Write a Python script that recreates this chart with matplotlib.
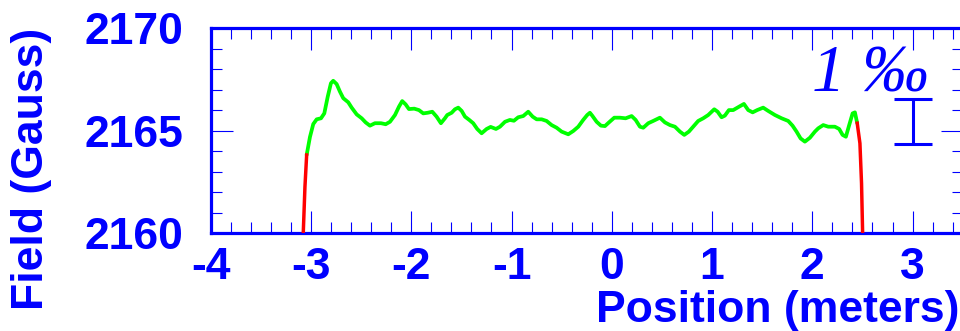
import numpy as np
import matplotlib
matplotlib.use('Agg')
import matplotlib.pyplot as plt
from matplotlib.ticker import MultipleLocator

# field map along the magnet axis
pos_green = [-3.043, -3.010, -2.977, -2.943, -2.900, -2.867, -2.833, -2.801, -2.778, -2.744,
             -2.711, -2.678, -2.628, -2.594, -2.544, -2.494, -2.455, -2.412, -2.362, -2.302,
             -2.255, -2.212, -2.162, -2.122, -2.090, -2.056, -2.023, -1.970, -1.923, -1.880,
             -1.836, -1.790, -1.747, -1.704, -1.664, -1.641, -1.597, -1.564, -1.531, -1.497,
             -1.464, -1.421, -1.382, -1.342, -1.298, -1.248, -1.208, -1.155, -1.115, -1.065,
             -1.016, -0.976, -0.933, -0.883, -0.833, -0.789, -0.749, -0.699, -0.650, -0.600,
             -0.550, -0.500, -0.434, -0.384, -0.334, -0.285, -0.245, -0.218, -0.195, -0.151,
             -0.108, -0.068, -0.028, 0.025, 0.081, 0.138, 0.198, 0.238, 0.281, 0.314,
             0.364, 0.413, 0.480, 0.530, 0.580, 0.630, 0.680, 0.723, 0.769, 0.812,
             0.862, 0.912, 0.962, 1.022, 1.056, 1.095, 1.128, 1.168, 1.211, 1.271,
             1.318, 1.361, 1.405, 1.450, 1.510, 1.560, 1.627, 1.694, 1.760, 1.803,
             1.843, 1.883, 1.926, 1.976, 2.026, 2.059, 2.109, 2.159, 2.225, 2.268,
             2.302, 2.335, 2.368, 2.402, 2.425, 2.448]
field_green = [2163.82, 2164.70, 2165.33, 2165.56, 2165.61, 2165.85, 2166.66, 2167.32, 2167.44, 2167.28,
               2166.91, 2166.59, 2166.39, 2166.13, 2165.80, 2165.61, 2165.41, 2165.25, 2165.37, 2165.37,
               2165.32, 2165.44, 2165.77, 2166.18, 2166.45, 2166.29, 2166.06, 2166.08, 2166.01, 2165.85,
               2165.88, 2165.93, 2165.69, 2165.37, 2165.61, 2165.77, 2165.88, 2166.05, 2166.13, 2165.97,
               2165.69, 2165.53, 2165.37, 2165.09, 2164.88, 2165.09, 2165.19, 2165.09, 2165.20, 2165.44,
               2165.53, 2165.49, 2165.66, 2165.72, 2165.93, 2165.69, 2165.56, 2165.56, 2165.48, 2165.28,
               2165.15, 2164.96, 2164.83, 2164.99, 2165.20, 2165.53, 2165.77, 2165.88, 2165.74, 2165.44,
               2165.25, 2165.23, 2165.41, 2165.64, 2165.64, 2165.61, 2165.72, 2165.53, 2165.20, 2165.15,
               2165.37, 2165.48, 2165.64, 2165.41, 2165.28, 2165.20, 2164.96, 2164.80, 2164.96, 2165.20,
               2165.48, 2165.61, 2165.77, 2166.05, 2165.93, 2165.66, 2165.74, 2166.01, 2166.01, 2166.18,
               2166.31, 2166.01, 2165.90, 2166.01, 2166.13, 2165.97, 2165.77, 2165.61, 2165.48, 2165.25,
               2164.96, 2164.63, 2164.47, 2164.66, 2164.96, 2165.12, 2165.28, 2165.20, 2165.20, 2165.09,
               2164.80, 2164.71, 2165.28, 2165.85, 2165.90, 2165.37]

# fringe regions at both ends
pos_red_left = [-3.077, -3.060, -3.043]
field_red_left = [2160.0, 2162.27, 2163.82]
pos_red_right = [2.448, 2.475, 2.491, 2.502]
field_red_right = [2165.37, 2164.39, 2162.44, 2160.0]

# 1 per mille scale bar
bar_x = 3.0
bar_y = 2165.46
bar_half = 1.0825

x_ticks = [-4, -3, -2, -1, 0, 1, 2, 3]
y_ticks = [2160, 2165, 2170]

blue = '#0000ff'
plt.rcParams['font.family'] = ['Liberation Sans', 'DejaVu Sans']
plt.rcParams['font.weight'] = 'bold'
plt.rcParams['axes.unicode_minus'] = False

fig = plt.figure(figsize=(9.6, 3.31), dpi=100)
ax = fig.add_axes([210.7 / 960, 1 - 233.3 / 331, (962.7 - 210.7) / 960, (233.3 - 28.3) / 331])

ax.plot(pos_green, field_green, color='#00ff00', lw=2.7, solid_joinstyle='round', solid_capstyle='round')
ax.plot(pos_red_left, field_red_left, color='#ff0000', lw=2.5, zorder=3)
ax.plot(pos_red_right, field_red_right, color='#ff0000', lw=2.5, zorder=3)

ax.errorbar([bar_x], [bar_y], yerr=[bar_half], color=blue, lw=2.2, capsize=14, capthick=2.2, fmt='none')
ax.text(2.0, 2166.94, '1 ‰', color=blue, fontsize=48, fontstyle='italic', fontweight='normal',
        family='Liberation Serif', ha='left', va='baseline')

ax.set_xlim(-4, 3.5)
ax.set_ylim(2160, 2170)
ax.set_xticks(x_ticks)
ax.set_yticks(y_ticks)
ax.xaxis.set_minor_locator(MultipleLocator(0.2))
ax.yaxis.set_minor_locator(MultipleLocator(1))

ax.tick_params(which='both', direction='in', top=True, right=True, color=blue, width=0.8,
               labelcolor=blue, labelsize=32)
ax.tick_params(which='major', length=15.5)
ax.tick_params(which='minor', length=8)
ax.tick_params(axis='x', pad=10)
ax.tick_params(axis='y', pad=20)

for sp in ax.spines.values():
    sp.set_color(blue)
    sp.set_linewidth(2.3)

fig.text(596 / 960, 1 - 322 / 331, 'Position (meters)', color=blue, fontsize=32,
         ha='left', va='baseline')
fig.text(31 / 960, 1 - 168.5 / 331, 'Field (Gauss)', color=blue, fontsize=32,
         rotation=90, ha='center', va='center')

fig.savefig('out.png', dpi=100)
